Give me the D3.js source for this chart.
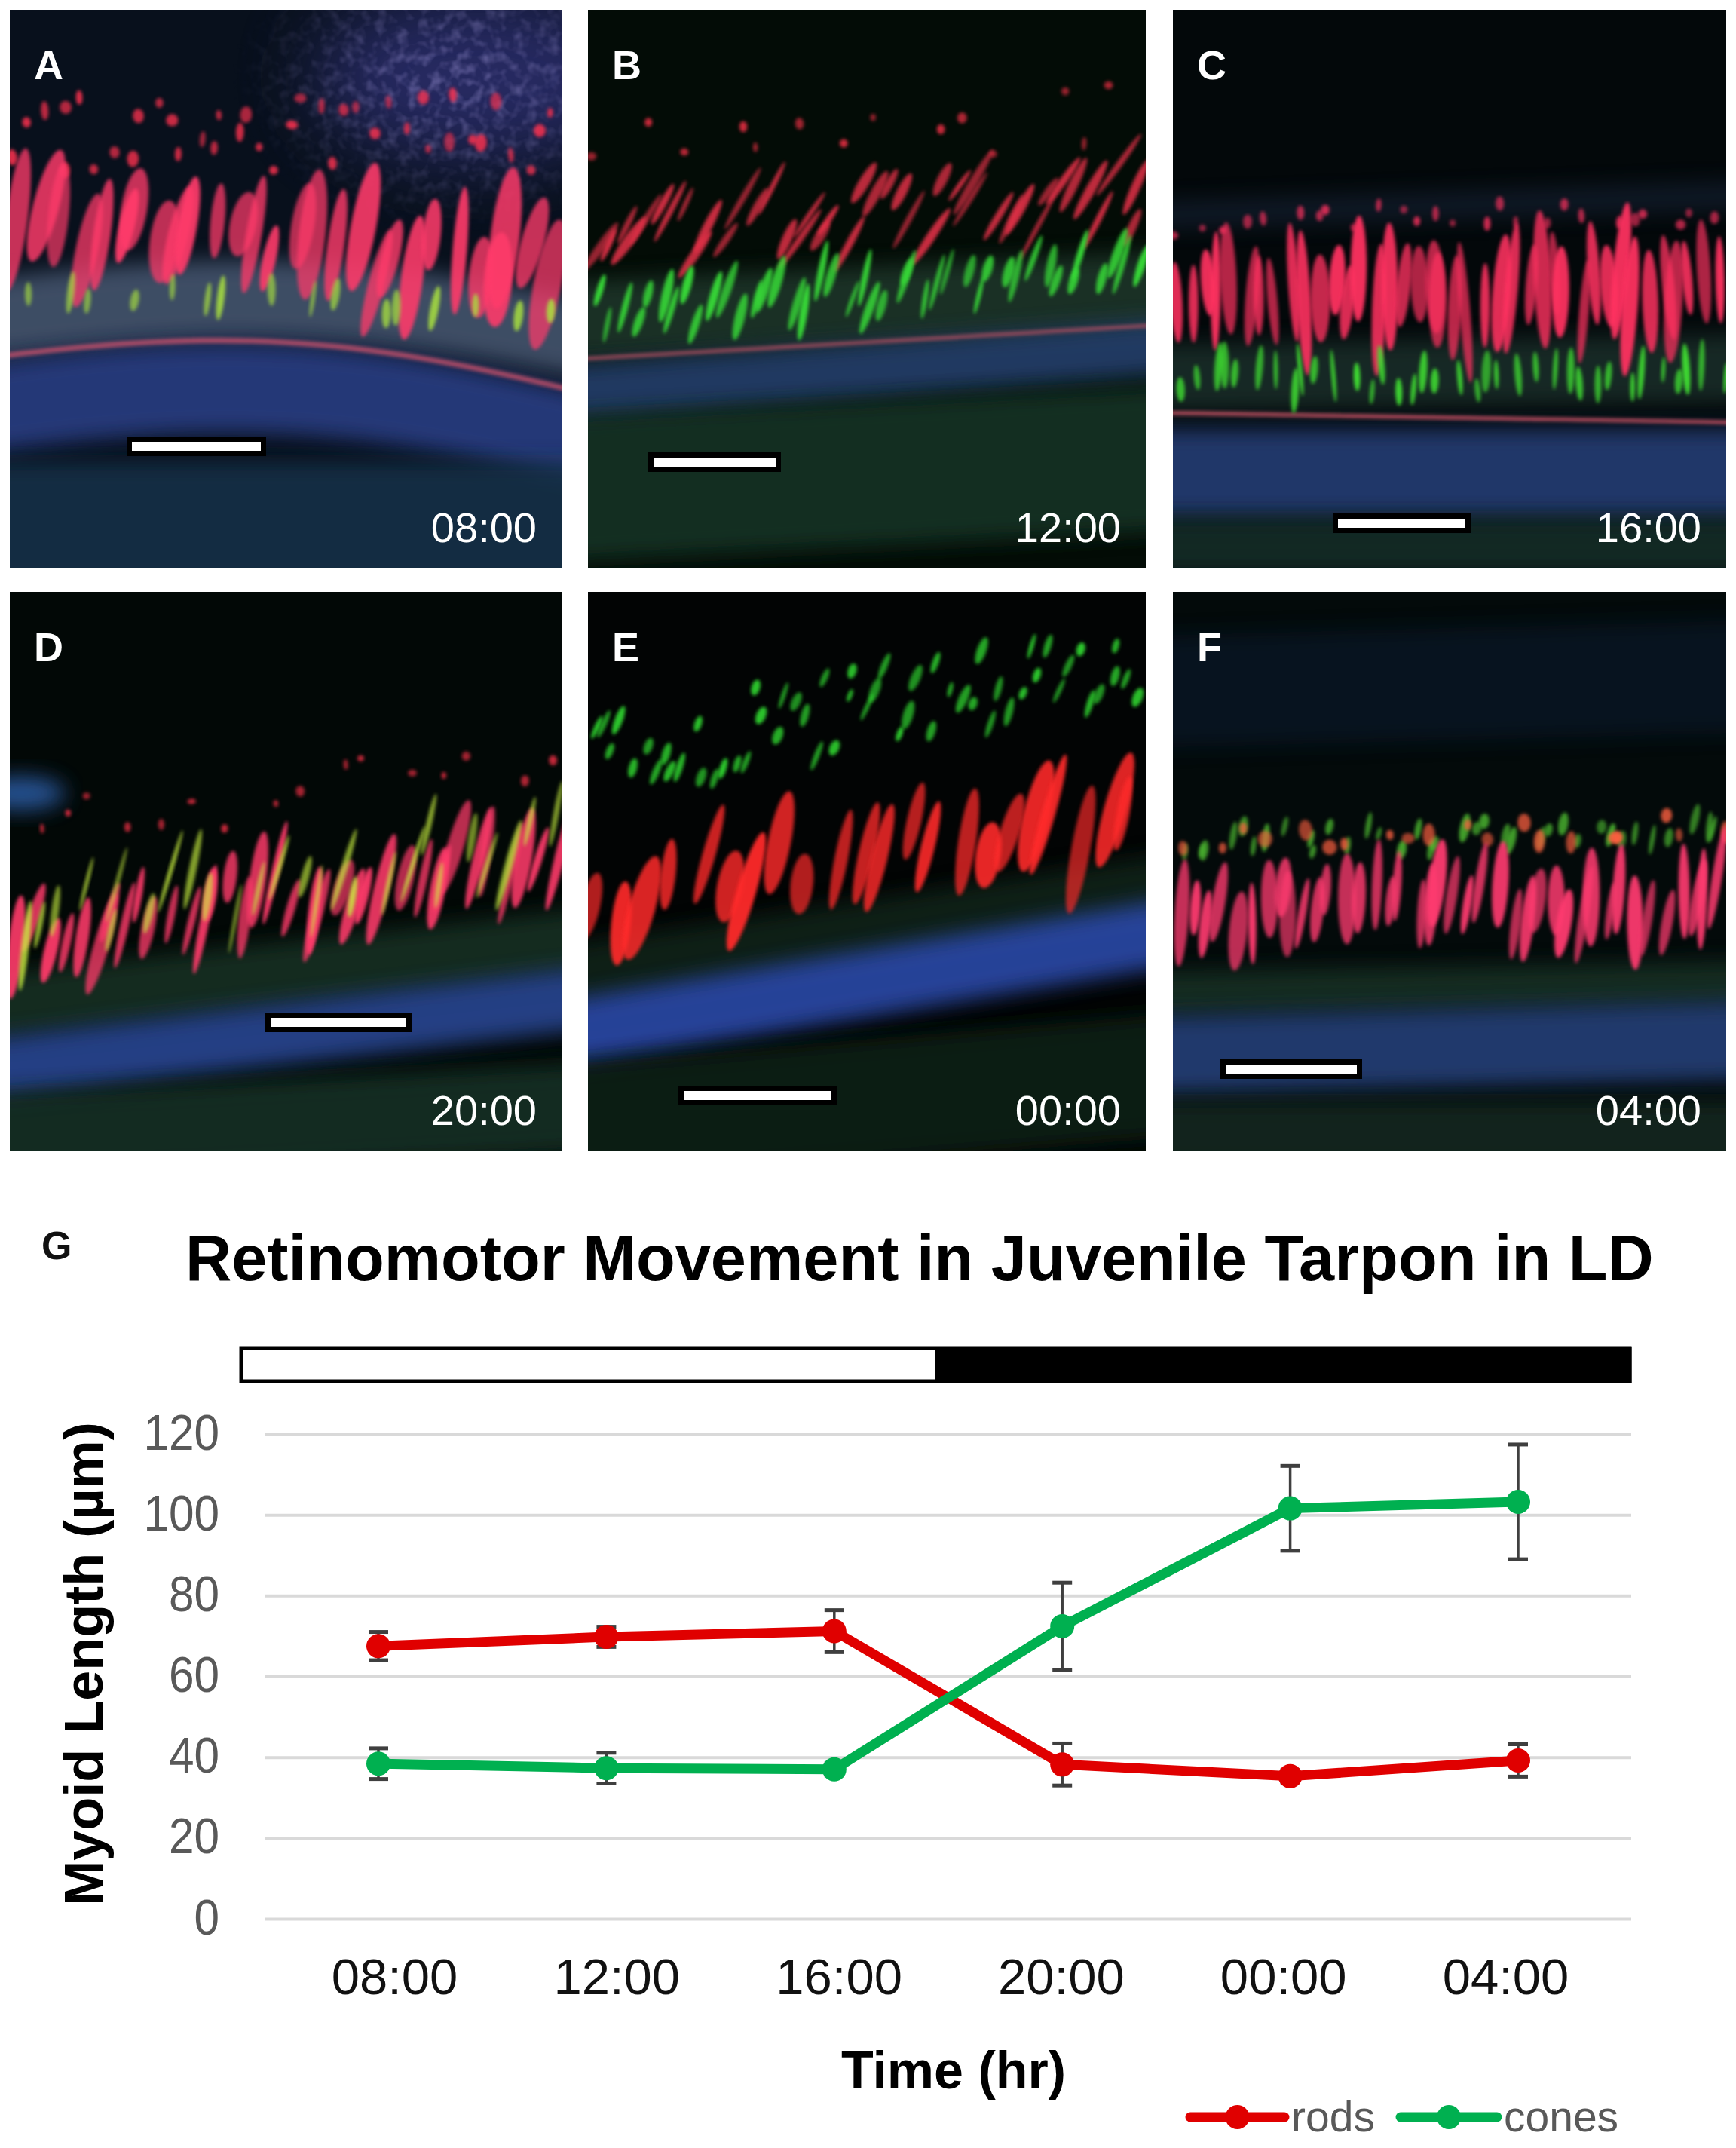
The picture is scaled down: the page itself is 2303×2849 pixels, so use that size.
<!DOCTYPE html>
<html><head><meta charset="utf-8">
<script src="https://cdn.jsdelivr.net/npm/d3@7"></script>
<style>body{margin:0;background:#fff}svg{display:block}</style>
</head><body><svg id="fig" width="2303" height="2849"></svg>
<script>
// ---------------- data ----------------
const times = ["08:00","12:00","16:00","20:00","00:00","04:00"];
const rods = [67.5, 69.8, 71.2, 38.2, 35.3, 39.2];
const rodsErr = [3.5, 2.5, 5.2, 5.2, 1.5, 4.0];
const cones = [38.4, 37.3, 37.0, 72.4, 101.6, 103.2];
const conesErr = [3.8, 3.8, 1.5, 10.8, 10.5, 14.2];
const yTicks = [0, 20, 40, 60, 80, 100, 120];
const seriesNames = ["rods", "cones"];
const phaseNames = ["light", "dark"];
const phaseHours = [12, 12];
const panelLetters = ["A","B","C","D","E","F"];
const panelTimes = ["08:00","12:00","16:00","20:00","00:00","04:00"];
const chartTitle = "Retinomotor Movement in Juvenile Tarpon in LD";
const xTitle = "Time (hr)";
const yTitle = "Myoid Length (µm)";

// ---------------- styles ----------------
const FONT = "'Liberation Sans', Arial, sans-serif";
const colors = { rods: "#e00000", cones: "#00b050" };
const svg = d3.select("#fig");
const defs = svg.append("defs");
defs.append("filter").attr("id","bandBlur").attr("x","-20%").attr("y","-50%").attr("width","140%").attr("height","200%")
  .append("feGaussianBlur").attr("stdDeviation", 14);
defs.append("filter").attr("id","bigBlur").attr("x","-50%").attr("y","-50%").attr("width","200%").attr("height","200%")
  .append("feGaussianBlur").attr("stdDeviation", 50);
defs.append("filter").attr("id","lineBlur").append("feGaussianBlur").attr("stdDeviation", 2);
defs.append("filter").attr("id","soft").attr("x","-50%").attr("y","-50%").attr("width","200%").attr("height","200%")
  .append("feGaussianBlur").attr("stdDeviation", 2.2);
// speckle texture
const sp = defs.append("filter").attr("id","speck").attr("x","0").attr("y","0").attr("width","100%").attr("height","100%");
sp.append("feTurbulence").attr("type","fractalNoise").attr("baseFrequency","0.07").attr("numOctaves",2).attr("seed",3).attr("result","n");
sp.append("feColorMatrix").attr("in","n").attr("type","matrix")
  .attr("values","0 0 0 0 0.4  0 0 0 0 0.35  0 0 0 0 0.75  0 0 0 -2.0 1.15").attr("result","c");
sp.append("feComposite").attr("in","c").attr("in2","SourceAlpha").attr("operator","in");
const rg = defs.append("radialGradient").attr("id","speckFade");
rg.append("stop").attr("offset","0%").attr("stop-color","#fff").attr("stop-opacity",1);
rg.append("stop").attr("offset","100%").attr("stop-color","#fff").attr("stop-opacity",0);
defs.append("mask").attr("id","speckMask").attr("maskContentUnits","objectBoundingBox")
  .append("rect").attr("width",1).attr("height",1).attr("fill","url(#speckFade)");

// ---------------- micrograph panels ----------------
const cols = [{x:13,w:732},{x:780,w:740},{x:1556,w:734}];
const rowsP = [{y:13,h:741},{y:785,h:742}];
const panelSpecs = [
 { bg:"#08101c",
   glow:{cx:0.85,cy:0.12,rx:0.3,ry:0.15,color:"#3a3a90",op:0.6},
   bands:[
     {yl:0.56,yr:0.60,wave:-0.06,h:0.14,color:"#6a7fa0",op:0.55},
     {yl:0.72,yr:0.78,wave:-0.07,h:0.16,color:"#2c3f88",op:0.85},
     {yl:0.92,yr:0.92,h:0.22,color:"#16304a",op:0.85},
     {yl:0.63,yr:0.70,wave:-0.07,h:0.01,color:"#c0506a",op:0.8,thin:true}],
   speck:{x:0.4,y:-0.15,w:0.8,h:0.55},
   streaks:[
     {yl:0.22,yr:0.22,spread:0.14,n:40,len:0.025,wid:0.016,tilt:0,color:"#ff3050",op:0.85},
     {yl:0.40,yr:0.45,spread:0.12,n:28,len:0.19,wid:0.04,tilt:10,color:"#ff3a6a",op:0.95},
     {yl:0.50,yr:0.54,spread:0.04,n:16,len:0.06,wid:0.012,tilt:5,color:"#a8e040",op:0.9}]},
 { bg:"#030c06",
   bands:[
     {yl:0.56,yr:0.50,h:0.14,color:"#2a4a3a",op:0.6},
     {yl:0.69,yr:0.60,h:0.10,color:"#2a4a80",op:0.75},
     {yl:0.86,yr:0.80,h:0.26,color:"#123526",op:0.85},
     {yl:0.63,yr:0.56,h:0.008,color:"#b05060",op:0.7,thin:true}],
   streaks:[
     {yl:0.27,yr:0.18,spread:0.12,n:14,len:0.018,wid:0.014,tilt:0,color:"#ff3048",op:0.8},
     {yl:0.40,yr:0.33,spread:0.12,n:42,len:0.10,wid:0.014,tilt:30,color:"#e8304a",op:0.9},
     {yl:0.54,yr:0.46,spread:0.08,n:42,len:0.08,wid:0.013,tilt:15,color:"#38e038",op:0.95}]},
 { bg:"#03080a",
   bands:[
     {yl:0.37,yr:0.33,h:0.05,color:"#203050",op:0.4},
     {yl:0.66,yr:0.64,h:0.12,color:"#2a4a40",op:0.5},
     {yl:0.83,yr:0.83,h:0.16,color:"#26407a",op:0.85},
     {yl:0.96,yr:0.96,h:0.1,color:"#15302a",op:0.8},
     {yl:0.72,yr:0.74,h:0.008,color:"#c05060",op:0.8,thin:true}],
   streaks:[
     {yl:0.38,yr:0.36,spread:0.05,n:26,len:0.02,wid:0.014,tilt:0,color:"#ff3060",op:0.8},
     {yl:0.50,yr:0.50,spread:0.09,n:40,len:0.19,wid:0.026,tilt:0,color:"#ff3060",op:0.95},
     {yl:0.66,yr:0.66,spread:0.05,n:36,len:0.07,wid:0.012,tilt:0,color:"#40e030",op:0.95}]},
 { bg:"#020806",
   glow:{cx:0.02,cy:0.36,rx:0.08,ry:0.03,color:"#2a5aa0",op:0.9,blur:"bandBlur"},
   bands:[
     {yl:0.75,yr:0.62,h:0.12,color:"#1c3a2a",op:0.7},
     {yl:0.86,yr:0.72,h:0.11,color:"#2a4a9a",op:0.85},
     {yl:0.98,yr:0.92,h:0.16,color:"#153325",op:0.85}],
   streaks:[
     {yl:0.42,yr:0.30,spread:0.10,n:16,len:0.015,wid:0.012,tilt:0,color:"#ff3048",op:0.8},
     {yl:0.62,yr:0.46,spread:0.10,n:36,len:0.15,wid:0.022,tilt:12,color:"#ff3a6a",op:0.95},
     {yl:0.60,yr:0.43,spread:0.12,n:26,len:0.12,wid:0.011,tilt:12,color:"#c8f040",op:0.8}]},
 { bg:"#020404",
   bands:[
     {yl:0.70,yr:0.52,h:0.12,color:"#123020",op:0.6},
     {yl:0.80,yr:0.60,h:0.12,color:"#2a4aa8",op:0.9},
     {yl:0.96,yr:0.86,h:0.22,color:"#0d2418",op:0.85}],
   streaks:[
     {yl:0.30,yr:0.12,spread:0.15,n:55,len:0.04,wid:0.013,tilt:20,color:"#30e030",op:0.9},
     {yl:0.55,yr:0.40,spread:0.12,n:22,len:0.17,wid:0.038,tilt:12,color:"#ff2a2a",op:0.95}]},
 { bg:"#030a0a",
   bands:[
     {yl:0.18,yr:0.15,h:0.2,color:"#102040",op:0.4},
     {yl:0.72,yr:0.70,h:0.08,color:"#1c3a2c",op:0.7},
     {yl:0.83,yr:0.80,h:0.14,color:"#26427e",op:0.85},
     {yl:0.97,yr:0.97,h:0.12,color:"#122a22",op:0.8}],
   streaks:[
     {yl:0.45,yr:0.42,spread:0.06,n:36,len:0.04,wid:0.013,tilt:10,color:"#50c030",op:0.85},
     {yl:0.44,yr:0.42,spread:0.05,n:20,len:0.03,wid:0.02,tilt:0,color:"#ff6040",op:0.85},
     {yl:0.57,yr:0.55,spread:0.08,n:40,len:0.14,wid:0.024,tilt:5,color:"#ff3a70",op:0.95}]}
];
const scaleBars = [
  {x0:162,x1:333,y:579},{x0:87,x1:249,y:600},{x0:219,x1:388,y:681},
  {x0:346,x1:526,y:571},{x0:127,x1:323,y:668},{x0:70,x1:244,y:633}];

panelSpecs.forEach((spec, i) => {
  const c = cols[i % 3], r = rowsP[Math.floor(i / 3)];
  const W = c.w, H = r.h;
  defs.append("clipPath").attr("id","clip"+i).append("rect").attr("width",W).attr("height",H);
  const g = svg.append("g").attr("transform",`translate(${c.x},${r.y})`).attr("clip-path",`url(#clip${i})`);
  g.append("rect").attr("width",W).attr("height",H).attr("fill",spec.bg);
  if (spec.glow) {
    const gl = spec.glow;
    g.append("ellipse").attr("cx", gl.cx*W).attr("cy", gl.cy*H).attr("rx", gl.rx*W).attr("ry", gl.ry*H)
      .attr("fill", gl.color).attr("opacity", gl.op).attr("filter", `url(#${gl.blur || "bigBlur"})`);
  }
  spec.bands.forEach(b => {
    const x0 = b.x0 ?? -0.1, x1 = b.x1 ?? 1.1;
    const pts = d3.range(0, 1.0001, 0.05).map(t => {
      const xx = x0 + (x1 - x0) * t;
      const yy = b.yl + (b.yr - b.yl) * t + (b.wave || 0) * Math.sin(t * Math.PI);
      return [xx * W, yy * H];
    });
    const area = d3.area().curve(d3.curveBasis).x(p => p[0])
      .y0(p => p[1] - b.h * H / 2).y1(p => p[1] + b.h * H / 2);
    g.append("path").attr("d", area(pts)).attr("fill", b.color).attr("opacity", b.op)
      .attr("filter", b.thin ? "url(#lineBlur)" : "url(#bandBlur)");
  });
  if (spec.speck) {
    const s = spec.speck;
    g.append("g").attr("mask","url(#speckMask)")
      .append("rect").attr("x", s.x*W).attr("y", s.y*H).attr("width", s.w*W).attr("height", s.h*H)
      .attr("fill","#fff").attr("filter","url(#speck)").attr("opacity",0.55);
  }
  const rnd = d3.randomLcg(0.137 * (i + 1));
  spec.streaks.forEach(s => {
    for (let k = 0; k < s.n; k++) {
      const t = (k + rnd()) / s.n;
      const cx = t * W;
      const cy = (s.yl + (s.yr - s.yl) * t + (rnd() - 0.5) * s.spread) * H;
      const len = s.len * (0.6 + 0.8 * rnd()) * H;
      const wid = s.wid * (0.6 + 0.8 * rnd()) * W;
      const rot = s.tilt + (rnd() - 0.5) * 12;
      g.append("ellipse").attr("cx", cx).attr("cy", cy).attr("rx", wid / 2).attr("ry", len / 2)
        .attr("transform", `rotate(${rot},${cx},${cy})`)
        .attr("fill", s.color).attr("opacity", s.op * (0.7 + 0.3 * rnd()))
        .attr("filter", "url(#soft)");
    }
  });
  const sb = scaleBars[i];
  g.append("rect").attr("x", sb.x0 - 7).attr("y", sb.y - 13).attr("width", sb.x1 - sb.x0 + 14).attr("height", 26).attr("fill","#000");
  g.append("rect").attr("x", sb.x0).attr("y", sb.y - 6).attr("width", sb.x1 - sb.x0).attr("height", 12).attr("fill","#fff");
  g.append("text").attr("x", 32).attr("y", 92).text(panelLetters[i])
    .attr("font-family", FONT).attr("font-weight", "bold").attr("font-size", 54).attr("fill", "#fff");
  g.append("text").attr("x", W - 33).attr("y", H - 35).attr("text-anchor","end").text(panelTimes[i])
    .attr("font-family", FONT).attr("font-size", 56).attr("fill", "#fff");
});

// ---------------- chart G ----------------
svg.append("text").attr("x", 55).attr("y", 1670).text("G")
  .attr("font-family", FONT).attr("font-weight","bold").attr("font-size", 52).attr("fill","#111");
const title = svg.append("text").attr("x", 246).attr("y", 1698).text(chartTitle)
  .attr("font-family", FONT).attr("font-weight","bold").attr("font-size", 85).attr("fill","#000");
{ const w = title.node().getComputedTextLength(); if (w > 0) title.attr("font-size", 85 * 1948 / w); }

// light/dark bar
const hourScale = d3.scaleLinear().domain([0, d3.sum(phaseHours)]).range([320, 2162]);
let acc = 0;
const phaseData = phaseNames.map((p, i) => { const d = {p, from: acc, to: acc + phaseHours[i]}; acc += phaseHours[i]; return d; });
svg.append("rect").attr("x", hourScale(0)).attr("y", 1788).attr("width", hourScale(24) - hourScale(0)).attr("height", 44)
  .attr("fill","#fff").attr("stroke","#000").attr("stroke-width", 5);
svg.selectAll("rect.phase").data(phaseData.filter(d => d.p === "dark")).join("rect").attr("class","phase")
  .attr("x", d => hourScale(d.from)).attr("y", 1786).attr("width", d => hourScale(d.to) - hourScale(d.from) + 2.5)
  .attr("height", 48).attr("fill","#000");

const y = d3.scaleLinear().domain([0, 120]).range([2545, 1902]);
const x = d3.scalePoint().domain(times).range([502, 2014]);
const xLab = d3.scalePoint().domain(times).range([523, 1997]);
const gridL = 352, gridR = 2164;

const gy = svg.append("g").attr("transform", `translate(${gridL},0)`)
  .call(d3.axisLeft(y).tickValues(yTicks).tickSize(-(gridR - gridL)).tickPadding(61));
gy.select(".domain").remove();
gy.selectAll(".tick line").attr("stroke", "#d9d9d9").attr("stroke-width", 4);
gy.selectAll(".tick text").attr("font-family", FONT).attr("font-size", 67).attr("fill", "#595959")
  .attr("transform","scale(0.9,1)").attr("x", -61/0.9).attr("dy","0.30em");

const gx = svg.append("g").attr("transform", "translate(0,2645)")
  .call(d3.axisBottom(xLab).tickSize(0).tickPadding(0));
gx.select(".domain").remove();
gx.selectAll(".tick text").attr("y", 0).attr("dy", 0).attr("font-family", FONT).attr("font-size", 67).attr("fill", "#111");

svg.append("text").attr("x", 1265).attr("y", 2770).attr("text-anchor","middle").text(xTitle)
  .attr("font-family", FONT).attr("font-weight","bold").attr("font-size", 70).attr("fill","#000");
svg.append("text").attr("transform","translate(136,2207) rotate(-90)").attr("text-anchor","middle").text(yTitle)
  .attr("font-family", FONT).attr("font-weight","bold").attr("font-size", 72).attr("fill","#000");

const series = [
  {name: "rods", vals: rods, err: rodsErr},
  {name: "cones", vals: cones, err: conesErr}];

// error bars
series.forEach(s => {
  const eg = svg.append("g").attr("stroke", "#3f3f3f");
  s.vals.forEach((v, i) => {
    const cx = x(times[i]);
    eg.append("line").attr("x1", cx).attr("x2", cx).attr("y1", y(v - s.err[i])).attr("y2", y(v + s.err[i])).attr("stroke-width", 3.5);
    [v - s.err[i], v + s.err[i]].forEach(e => {
      eg.append("line").attr("x1", cx - 13).attr("x2", cx + 13).attr("y1", y(e)).attr("y2", y(e)).attr("stroke-width", 5);
    });
  });
});
// lines + markers
const line = d3.line().x((d, i) => x(times[i])).y(d => y(d));
series.forEach(s => {
  svg.append("path").attr("d", line(s.vals)).attr("fill","none").attr("stroke", colors[s.name])
    .attr("stroke-width", 13).attr("stroke-linejoin","round");
  svg.selectAll(null).data(s.vals).join("circle").attr("cx", (d, i) => x(times[i])).attr("cy", d => y(d))
    .attr("r", 16).attr("fill", colors[s.name]);
});

// legend
const legend = [
  {name: "rods", x0: 1579, x1: 1704, tx: 1713},
  {name: "cones", x0: 1858, x1: 1986, tx: 1995}];
legend.forEach(l => {
  svg.append("line").attr("x1", l.x0).attr("x2", l.x1).attr("y1", 2808).attr("y2", 2808)
    .attr("stroke", colors[l.name]).attr("stroke-width", 13).attr("stroke-linecap","round");
  svg.append("circle").attr("cx", (l.x0 + l.x1) / 2).attr("cy", 2808).attr("r", 16).attr("fill", colors[l.name]);
  svg.append("text").attr("x", l.tx).attr("y", 2827).text(l.name)
    .attr("font-family", FONT).attr("font-size", 57).attr("fill", "#595959");
});
</script></body></html>
